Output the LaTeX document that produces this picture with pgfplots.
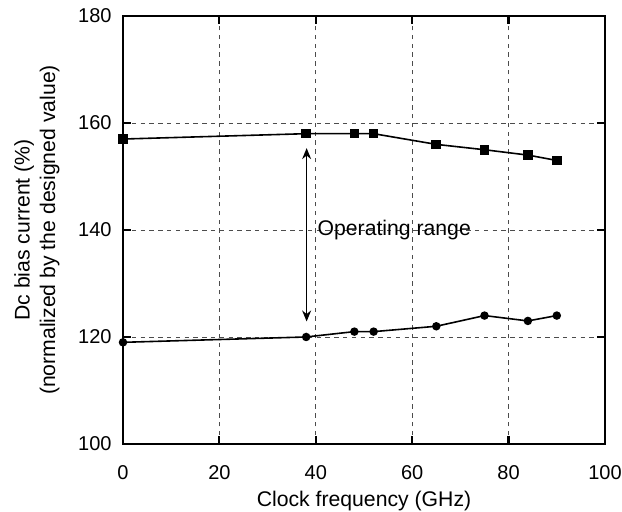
\documentclass[border=0pt]{standalone}
\usepackage{pgfplots}
\pgfplotsset{compat=1.18}
\usetikzlibrary{arrows.meta}
\usepackage{fontspec}
\setmainfont{Liberation Sans}
\begin{document}
\fontsize{10.6pt}{12.8pt}\selectfont
\begin{tikzpicture}
\begin{axis}[
  width=241pt, height=214pt,
  scale only axis,
  xmin=0, xmax=100, ymin=100, ymax=180,
  xtick={0,20,...,100}, ytick={100,120,...,180},
  tick align=inside,
  major tick length=4pt,
  tick style={line width=1.1pt, black},
  axis line style={line width=1pt},
  grid=major,
  grid style={dash pattern=on 2.2pt off 2.2pt, gray!60!black, line width=0.45pt},
  /pgf/number format/assume math mode=true,
  tick label style={font=\fontsize{10pt}{12pt}\selectfont},
  xticklabel style={yshift=-7pt},
  yticklabel style={xshift=-2pt},
  label style={font=\fontsize{10.6pt}{12.8pt}\selectfont},
  xlabel={Clock frequency (GHz)},
  ylabel={Dc bias current (\%)\\(normalized by the designed value)},
  ylabel style={align=center, yshift=2pt},
  xlabel style={yshift=1.5pt},
  clip=false,
]
\addplot[black, line width=0.8pt, mark=square*, mark size=2pt] coordinates {
  (0,157) (38,158) (48,158) (52,158) (65,156) (75,155) (84,154) (90,153)
};
\addplot[black, line width=0.8pt, mark=*, mark size=1.7pt] coordinates {
  (0,119) (38,120) (48,121) (52,121) (65,122) (75,124) (84,123) (90,124)
};
\draw[{Stealth[length=5.5pt,width=4.5pt]}-{Stealth[length=5.5pt,width=4.5pt]}, line width=0.6pt] (axis cs:38.1,155.3) -- (axis cs:38.1,122.9);
\node[anchor=west, inner sep=0pt] at (axis cs:40.3,140) {Operating range};
\coordinate (bl) at (rel axis cs:0,0);
\coordinate (tr) at (rel axis cs:1,1);
\end{axis}
\pgfresetboundingbox
\path ([shift={(-61.5pt,-34pt)}]bl) rectangle ([shift={(8.5pt,8pt)}]tr);
\end{tikzpicture}
\end{document}
